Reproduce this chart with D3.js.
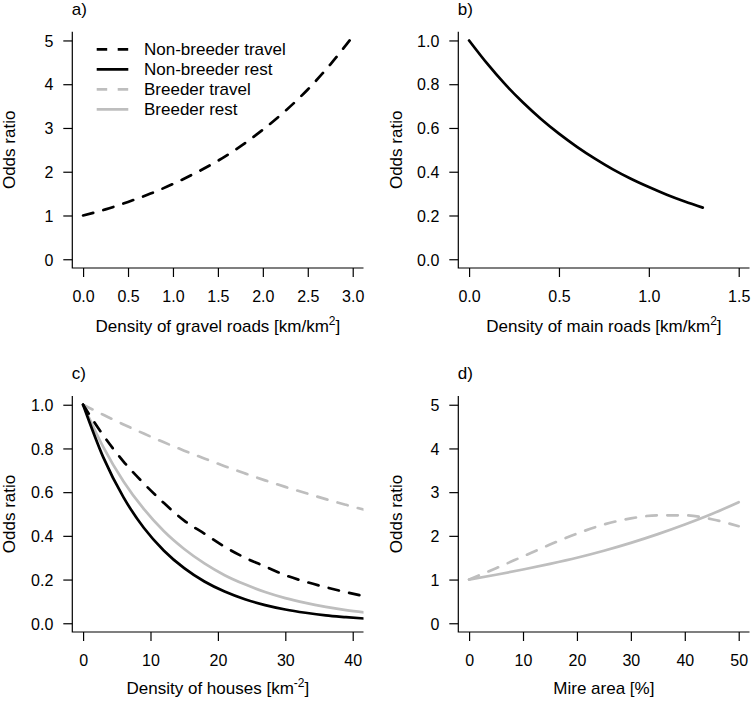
<!DOCTYPE html>
<html>
<head>
<meta charset="utf-8">
<script src="https://cdn.jsdelivr.net/npm/d3@7"></script>
<style>
  body { margin: 0; background: #fff; }
  svg { display: block; }
  text { font-family: "Liberation Sans", Arial, Helvetica, sans-serif; fill: #000; }
</style>
</head>
<body>
<svg id="chart" width="752" height="707"></svg>
<script>
// ---------------- DATA ----------------
const seriesNames = ["Non-breeder travel", "Non-breeder rest", "Breeder travel", "Breeder rest"];

// a) gravel roads
const gravelX = [0, 0.25, 0.5, 0.75, 1.0, 1.25, 1.5, 1.75, 2.0, 2.25, 2.5, 2.75, 3.0];
const gravelNonBreederTravel = [1.00, 1.14, 1.31, 1.50, 1.72, 1.97, 2.25, 2.58, 2.96, 3.39, 3.88, 4.45, 5.09];

// b) main roads
const mainX = [0, 0.1, 0.2, 0.3, 0.4, 0.5, 0.6, 0.7, 0.8, 0.9, 1.0, 1.1, 1.2, 1.3];
const mainNonBreederRest = [1.00, 0.895, 0.80, 0.716, 0.641, 0.574, 0.514, 0.460, 0.411, 0.368, 0.330, 0.295, 0.264, 0.236];

// c) houses
const housesX = [0, 3, 6, 9, 12, 15, 18, 21, 24, 27, 30, 33, 36, 39, 42];
const housesNonBreederTravel = [1.00, 0.86, 0.74, 0.64, 0.55, 0.47, 0.41, 0.35, 0.30, 0.26, 0.22, 0.19, 0.165, 0.142, 0.122];
const housesNonBreederRest   = [1.00, 0.759, 0.576, 0.437, 0.332, 0.252, 0.191, 0.145, 0.110, 0.083, 0.063, 0.048, 0.036, 0.028, 0.021];
const housesBreederTravel    = [1.00, 0.954, 0.910, 0.868, 0.828, 0.790, 0.754, 0.719, 0.686, 0.654, 0.624, 0.596, 0.568, 0.542, 0.517];
const housesBreederRest      = [1.00, 0.806, 0.649, 0.523, 0.421, 0.340, 0.274, 0.220, 0.178, 0.143, 0.115, 0.093, 0.075, 0.060, 0.049];

// d) mire area
const mireX = [0, 5, 10, 15, 20, 25, 30, 35, 40, 45, 50];
const mireBreederTravel = [1.00, 1.26, 1.53, 1.80, 2.05, 2.26, 2.40, 2.47, 2.47, 2.38, 2.22];
const mireBreederRest   = [1.00, 1.11, 1.23, 1.36, 1.50, 1.66, 1.84, 2.04, 2.26, 2.50, 2.77];

// tick labels
const ticksA_x = ["0.0", "0.5", "1.0", "1.5", "2.0", "2.5", "3.0"];
const ticksB_x = ["0.0", "0.5", "1.0", "1.5"];
const ticksC_x = ["0", "10", "20", "30", "40"];
const ticksD_x = ["0", "10", "20", "30", "40", "50"];
const ticksOR5 = ["0", "1", "2", "3", "4", "5"];
const ticksOR1 = ["0.0", "0.2", "0.4", "0.6", "0.8", "1.0"];

// ---------------- STYLE ----------------
const styles = {
  "Non-breeder travel": { color: "#000000", dash: true },
  "Non-breeder rest":   { color: "#000000", dash: false },
  "Breeder travel":     { color: "#bebebe", dash: true },
  "Breeder rest":       { color: "#bebebe", dash: false }
};
const LW = 2.7;
const DASH = "10.5,10.5";
const FS = 16;     // tick labels
const FL = 17;     // titles, legend, panel letters

const svg = d3.select("#chart");

function expand(lo, hi) { const d = (hi - lo) * 0.04; return [lo - d, hi + d]; }

function panel(cfg) {
  const g = svg.append("g");
  const { x0, x1, y0, y1 } = cfg.box;
  const x = d3.scaleLinear().domain(expand(cfg.xlim[0], cfg.xlim[1])).range([x0, x1]);
  const y = d3.scaleLinear().domain(expand(cfg.ylim[0], cfg.ylim[1])).range([y1, y0]);

  const clipId = "clip-" + cfg.id;
  svg.append("clipPath").attr("id", clipId)
    .append("rect").attr("x", x0).attr("y", y0).attr("width", x1 - x0).attr("height", y1 - y0);

  // curves
  const line = d3.line().x(d => x(d[0])).y(d => y(d[1])).curve(d3.curveMonotoneX);
  const cg = g.append("g").attr("clip-path", `url(#${clipId})`);
  cfg.series.forEach(s => {
    const st = styles[s.name];
    cg.append("path")
      .datum(s.xs.map((v, i) => [v, s.ys[i]]))
      .attr("d", line)
      .attr("fill", "none")
      .attr("stroke", st.color)
      .attr("stroke-width", LW)
      .attr("stroke-linecap", "round")
      .attr("stroke-dasharray", st.dash ? DASH : null);
  });

  // L-shaped box
  g.append("path")
    .attr("d", `M${x0},${y0}V${y1}H${x1}`)
    .attr("fill", "none").attr("stroke", "#000").attr("stroke-width", 1.2);

  // x axis
  const xAxis = d3.axisBottom(x)
    .tickValues(cfg.xticks.map(Number))
    .tickFormat((d, i) => cfg.xticks[i])
    .tickSize(9).tickPadding(0);
  const xa = g.append("g").attr("transform", `translate(0,${y1})`).call(xAxis);
  xa.select(".domain").remove();
  xa.selectAll(".tick line").attr("stroke", "#000").attr("stroke-width", 1.2);
  xa.selectAll(".tick text")
    .attr("y", 34).attr("dy", null)
    .style("font-size", FS + "px")
    .style("font-family", '"Liberation Sans", Arial, sans-serif')
    .attr("fill", "#000");

  // y axis
  const yAxis = d3.axisLeft(y)
    .tickValues(cfg.yticks.map(Number))
    .tickFormat((d, i) => cfg.yticks[i])
    .tickSize(9).tickPadding(10);
  const ya = g.append("g").attr("transform", `translate(${x0},0)`).call(yAxis);
  ya.select(".domain").remove();
  ya.selectAll(".tick line").attr("stroke", "#000").attr("stroke-width", 1.2);
  ya.selectAll(".tick text")
    .attr("x", -19).attr("dy", "0.36em")
    .style("font-size", FS + "px")
    .style("font-family", '"Liberation Sans", Arial, sans-serif')
    .attr("fill", "#000");

  // y label
  g.append("text")
    .attr("transform", `translate(${cfg.ylabX},${(y0 + y1) / 2}) rotate(-90)`)
    .attr("text-anchor", "middle")
    .style("font-size", FL + "px")
    .text("Odds ratio");

  // x label
  const xl = g.append("text")
    .attr("x", (x0 + x1) / 2).attr("y", cfg.xlabY)
    .attr("text-anchor", "middle")
    .style("font-size", FL + "px");
  xl.append("tspan").text(cfg.xlab[0]);
  if (cfg.xlab[1]) {
    xl.append("tspan").attr("dy", -7).style("font-size", "12px").text(cfg.xlab[1]);
    xl.append("tspan").attr("dy", 7).text(cfg.xlab[2]);
  }

  // panel letter
  g.append("text")
    .attr("x", x0 - 0.5).attr("y", cfg.letterY)
    .style("font-size", FL + "px")
    .text(cfg.letter);

  return { g, x, y };
}

const boxA = { x0: 72.3, x1: 363.5, y0: 31.7, y1: 268 };
const boxB = { x0: 458.3, x1: 749.5, y0: 31.7, y1: 268 };
const boxC = { x0: 72.3, x1: 363.5, y0: 396, y1: 632 };
const boxD = { x0: 458.3, x1: 749.5, y0: 396, y1: 632 };

panel({
  id: "a", letter: "a)", box: boxA, xlim: [0, 3], ylim: [0, 5],
  xticks: ticksA_x, yticks: ticksOR5, ylabX: 15, xlabY: 332, letterY: 15,
  xlab: ["Density of gravel roads [km/km", "2", "]"],
  series: [{ name: "Non-breeder travel", xs: gravelX, ys: gravelNonBreederTravel }]
});

panel({
  id: "b", letter: "b)", box: boxB, xlim: [0, 1.5], ylim: [0, 1],
  xticks: ticksB_x, yticks: ticksOR1, ylabX: 402, xlabY: 332, letterY: 15,
  xlab: ["Density of main roads [km/km", "2", "]"],
  series: [{ name: "Non-breeder rest", xs: mainX, ys: mainNonBreederRest }]
});

panel({
  id: "c", letter: "c)", box: boxC, xlim: [0, 40], ylim: [0, 1],
  xticks: ticksC_x, yticks: ticksOR1, ylabX: 15, xlabY: 694, letterY: 379,
  xlab: ["Density of houses [km", "-2", "]"],
  series: [
    { name: "Breeder travel", xs: housesX, ys: housesBreederTravel },
    { name: "Breeder rest", xs: housesX, ys: housesBreederRest },
    { name: "Non-breeder travel", xs: housesX, ys: housesNonBreederTravel },
    { name: "Non-breeder rest", xs: housesX, ys: housesNonBreederRest }
  ]
});

panel({
  id: "d", letter: "d)", box: boxD, xlim: [0, 50], ylim: [0, 5],
  xticks: ticksD_x, yticks: ticksOR5, ylabX: 402, xlabY: 694, letterY: 379,
  xlab: ["Mire area [%]"],
  series: [
    { name: "Breeder travel", xs: mireX, ys: mireBreederTravel },
    { name: "Breeder rest", xs: mireX, ys: mireBreederRest }
  ]
});

// legend in panel a
const leg = svg.append("g");
seriesNames.forEach((name, i) => {
  const st = styles[name];
  const yy = 49.3 + i * 20;
  leg.append("line")
    .attr("x1", 96.7).attr("x2", 128.3).attr("y1", yy).attr("y2", yy)
    .attr("stroke", st.color).attr("stroke-width", LW)
    .attr("stroke-dasharray", st.dash ? DASH : null);
  leg.append("text")
    .attr("x", 144).attr("y", yy).attr("dy", "0.36em")
    .style("font-size", FL + "px")
    .text(name);
});
</script>
</body>
</html>
